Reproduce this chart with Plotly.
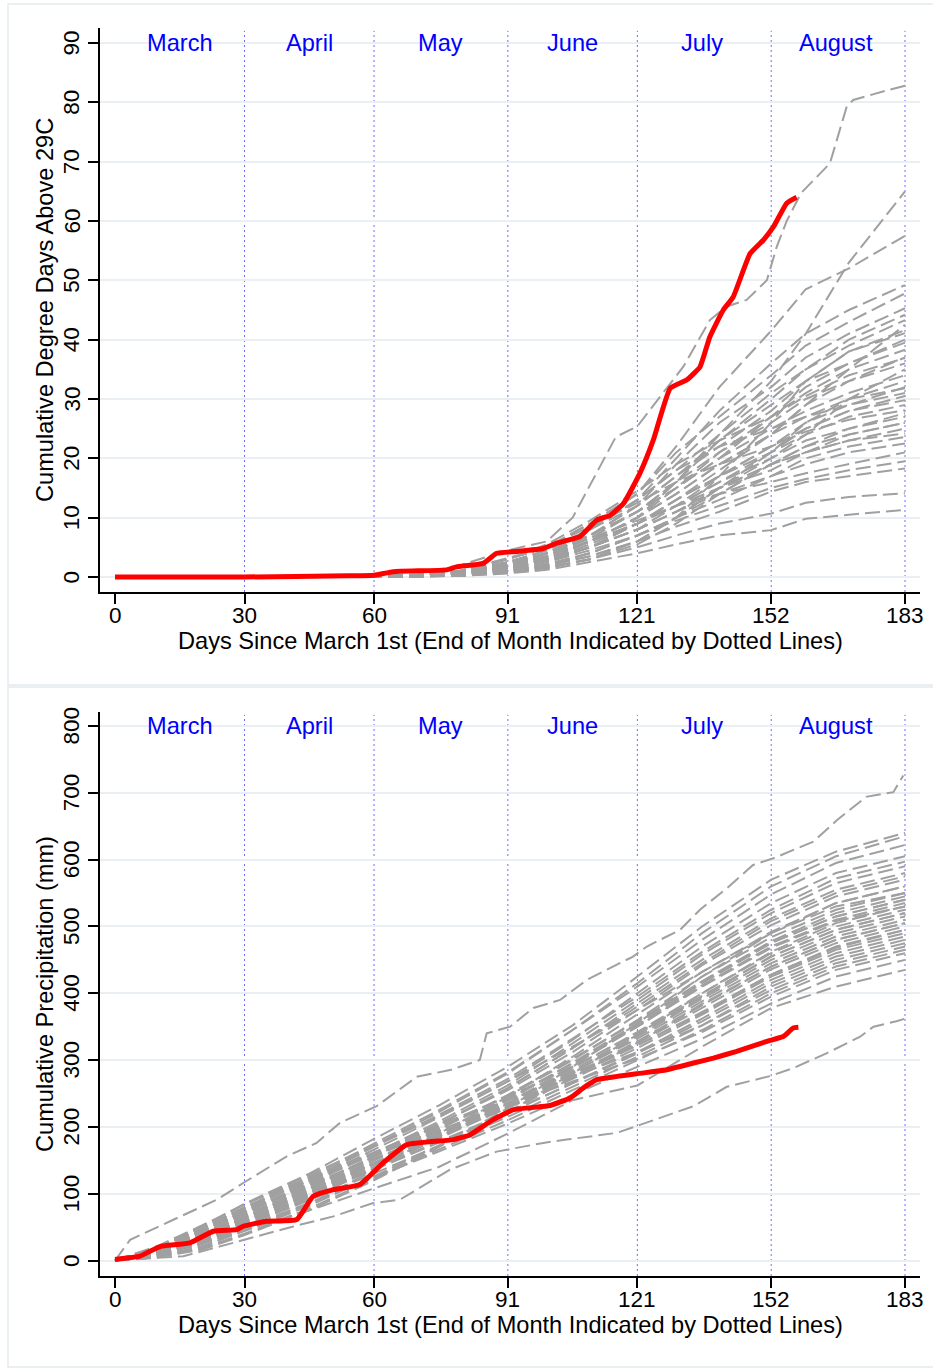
import plotly.graph_objects as go

# ---------------- data ----------------
DAY_TICKS = [0, 30, 60, 91, 121, 152, 183]
MONTH_ENDS = [30, 60, 91, 121, 152, 183]
MONTHS = ["March", "April", "May", "June", "July", "August"]
MONTH_MID = [15, 45, 75.5, 106, 136, 167]
DD_TICKS = [0, 10, 20, 30, 40, 50, 60, 70, 80, 90]
PR_TICKS = [0, 100, 200, 300, 400, 500, 600, 700, 800]

# historical years: cumulative degree days above 29C (read at these days)
DD_DAYS = [0, 55, 70, 80, 91, 100, 110, 121, 130, 140, 152, 160, 170, 183]
DD_YEARS = [
    [0, 0, 0.3, 1, 2.5, 4, 7, 11, 16, 24, 33, 41, 53, 65],
    [0, 0, 0.3, 1, 3, 5, 9, 14, 22, 32, 41.5, 48.5, 52, 57.5],
    [0, 0, 0.2, 0.8, 2.5, 4.5, 8, 13, 20, 28, 36, 41, 45, 49.2],
    [0, 0, 0.3, 1, 3, 5, 9, 14, 21, 27, 34, 39, 43, 47.8],
    [0, 0, 0.2, 0.8, 2, 3.5, 7, 12, 19, 26, 32, 37, 41, 45.3],
    [0, 0, 0.2, 0.6, 2, 4, 8, 13, 18, 24, 31, 35, 40, 44.2],
    [0, 0, 0.1, 0.5, 1.5, 3, 6, 10, 16, 23, 30, 35, 39, 43.3],
    [0, 0, 0.2, 0.7, 2.5, 4.5, 8, 12, 17, 22, 28, 33, 38, 41.6],
    [0, 0, 0.1, 0.3, 0.9, 1.8, 3.5, 6, 10, 17, 26, 33, 38, 41.1],
    [0, 0, 0.2, 0.8, 2, 4, 7, 11, 15, 20, 27, 32, 36, 39.5],
    [0, 0, 0.1, 0.4, 1.5, 3, 6, 10, 15, 21, 27, 31, 35, 38.3],
    [0, 0, 0.3, 1, 3, 5.5, 9.5, 14.5, 19, 23, 27, 30.5, 34, 36.9],
    [0, 0, 0.1, 0.5, 1.5, 3, 5, 9, 13, 18, 24, 29, 33, 36],
    [0, 0, 0.2, 0.7, 2, 4, 7, 11, 15, 20, 25, 28, 31, 34],
    [0, 0, 0.1, 0.2, 0.7, 1.5, 3, 6, 10, 15, 21, 26, 30, 33],
    [0, 0, 0.1, 0.5, 1.5, 3, 6, 10, 14, 19, 24, 27, 30, 31.8],
    [0, 0, 0.2, 0.6, 2, 3.5, 6, 9, 12, 16, 21, 25, 28, 30.5],
    [0, 0, 0.1, 0.4, 1.2, 2.5, 5, 8, 12, 17, 22, 25, 28, 29.8],
    [0, 0, 0.3, 1.1, 3.2, 5, 8.5, 12.5, 16, 19, 22, 24.5, 26.5, 28.1],
    [0, 0, 0.2, 0.6, 1.8, 3.5, 6, 9, 12, 15, 19, 22, 25, 27.6],
    [0, 0, 0.1, 0.3, 1, 2, 4, 7, 10, 14, 19, 22, 24, 26],
    [0, 0, 0.1, 0.5, 1.5, 3, 5, 8, 11, 15, 19, 21, 23, 25],
    [0, 0, 0.1, 0.2, 0.8, 1.6, 3, 5.5, 9, 14, 19, 21, 23, 24.2],
    [0, 0, 0.1, 0.3, 1, 2, 4, 7, 10, 13, 17, 20, 22, 23.6],
    [0, 0, 0.1, 0.5, 1.5, 3, 5, 8, 11, 14, 17, 19, 21, 22.5],
    [0, 0, 0.2, 0.7, 2.2, 4, 6.5, 9.5, 12, 14, 16, 17.5, 19, 21],
    [0, 0, 0.1, 0.4, 1.2, 2.5, 4.5, 7, 9.5, 12, 15, 16.5, 18, 19.5],
    [0, 0, 0.1, 0.3, 1, 2, 3.5, 6, 8.5, 11, 14.4, 16, 17, 18.3],
    [0, 0, 0.1, 0.2, 0.8, 1.5, 3, 5, 7, 9, 10.7, 12.5, 13.5, 14.1],
    [0, 0, 0.1, 0.2, 0.6, 1.2, 2.5, 4, 5.5, 7, 7.9, 9.8, 10.5, 11.3],
    [0, 0, 0.2, 0.7, 2.2, 4, 7, 12, 17, 23, 29, 33, 36, 40],
    [0, 0, 0.1, 0.5, 1.8, 3.5, 6.5, 11, 16, 21, 26, 30, 33, 37],
    [0, 0, 0.1, 0.4, 1.3, 2.8, 5, 9, 13, 17, 22, 26, 29, 32],
    [0, 0, 0.2, 0.8, 2.5, 4.5, 8, 13, 18, 22, 25, 27, 29, 31],
    [0, 0, 0.1, 0.4, 1.5, 3, 5.5, 9, 12, 16, 20, 23, 25, 27],
    [0, 0, 0.1, 0.6, 1.8, 3.5, 6, 10, 14, 19, 24, 29, 35, 42.5],
    [0, 0, 0.1, 0.3, 1, 2.2, 4, 7, 10, 15, 20, 24, 30, 35],
    [0, 0, 0.2, 0.6, 1.8, 3.2, 6, 9, 13, 17, 21, 24, 27, 29],
    [0, 0, 0.1, 0.4, 1.4, 2.8, 5, 8, 11, 15, 18, 21, 24, 26],
]
# hottest historical year (its own reading days)
DD_HOT_DAYS = [0, 55, 70, 80, 91, 100, 106, 116, 121, 131.6, 137.8, 141.7, 146.3, 151,
               153.3, 155.6, 158.9, 165.6, 169.5, 171, 178.7, 183]
DD_HOT = [0, 0, 0.5, 2, 4.5, 6, 10, 23.6, 25.4, 35.4, 43.3, 45.6, 46.7, 50,
          55.7, 60, 64.7, 69.7, 79.3, 80.4, 82, 82.8]

# 2012: cumulative degree days above 29C
RED_DD_DAYS = [0, 30, 54, 60, 64.5, 76.8, 79.1, 85.3, 88.4, 93, 99.2, 102.3, 107.7,
               111.6, 114.7, 117.8, 121.6, 124.7, 128.6, 132.4, 135.5, 137.8, 140.9,
               143.2, 147.1, 150.2, 152.5, 155.6, 157.9]
RED_DD = [0, 0, 0.2, 0.3, 0.9, 1.2, 1.7, 2.3, 4.0, 4.3, 4.8, 5.7, 6.8,
          9.6, 10.4, 12.4, 17.5, 23.1, 31.8, 33.2, 35.4, 40.5, 45,
          47.2, 54.5, 56.8, 59, 63, 64]

# historical years: cumulative precipitation (mm)
PR_DAYS = [0, 10, 20, 30, 45, 60, 75, 91, 106, 121, 136, 152, 167, 183]
PR_YEARS = [
    [0, 10, 25, 45, 75, 108, 140, 190, 240, 262, 320, 378, 410, 435],
    [0, 20, 50, 85, 130, 182, 232, 290, 352, 425, 500, 570, 612, 640],
    [0, 16, 42, 75, 122, 172, 222, 280, 345, 415, 490, 560, 605, 635],
    [0, 18, 45, 78, 125, 175, 225, 282, 345, 410, 480, 548, 595, 622],
    [0, 14, 38, 72, 118, 166, 214, 268, 330, 400, 470, 535, 580, 605],
    [0, 20, 46, 78, 120, 170, 218, 272, 332, 395, 462, 525, 572, 597],
    [0, 15, 40, 70, 115, 160, 208, 262, 325, 390, 458, 520, 565, 590],
    [0, 12, 32, 64, 108, 155, 203, 258, 318, 385, 450, 512, 555, 580],
    [0, 17, 42, 74, 116, 160, 205, 255, 312, 375, 442, 502, 545, 570],
    [0, 6, 20, 45, 85, 135, 190, 245, 305, 368, 432, 492, 535, 560],
    [0, 19, 44, 72, 112, 155, 198, 246, 300, 360, 425, 484, 525, 550],
    [0, 11, 30, 58, 98, 145, 190, 240, 296, 355, 418, 478, 520, 545],
    [0, 15, 38, 66, 108, 150, 192, 240, 295, 352, 415, 475, 515, 540],
    [0, 9, 26, 52, 92, 138, 185, 235, 292, 350, 412, 470, 510, 535],
    [0, 5, 18, 40, 78, 122, 170, 222, 280, 338, 400, 462, 505, 530],
    [0, 12, 32, 60, 100, 143, 186, 234, 288, 342, 400, 460, 500, 525],
    [0, 14, 36, 64, 104, 146, 188, 236, 285, 338, 395, 455, 495, 520],
    [0, 10, 28, 54, 94, 138, 182, 230, 282, 335, 392, 450, 490, 515],
    [0, 17, 42, 72, 112, 152, 192, 236, 282, 332, 388, 445, 485, 510],
    [0, 11, 30, 58, 98, 140, 184, 230, 278, 328, 384, 440, 480, 505],
    [0, 13, 34, 62, 102, 145, 186, 230, 276, 325, 378, 436, 475, 500],
    [0, 18, 46, 78, 120, 160, 200, 240, 280, 322, 370, 428, 470, 495],
    [0, 15, 37, 66, 106, 146, 186, 228, 272, 318, 368, 425, 465, 490],
    [0, 11, 30, 57, 95, 136, 176, 220, 266, 312, 362, 420, 460, 485],
    [0, 13, 32, 60, 98, 138, 178, 222, 265, 310, 358, 415, 455, 480],
    [0, 10, 27, 52, 90, 130, 172, 215, 260, 305, 352, 410, 450, 475],
    [0, 20, 48, 80, 120, 158, 194, 236, 275, 312, 352, 405, 445, 470],
    [0, 9, 24, 48, 85, 125, 166, 210, 255, 300, 345, 400, 440, 465],
    [0, 22, 52, 84, 124, 160, 195, 232, 268, 302, 342, 395, 435, 460],
    [0, 10, 26, 50, 86, 124, 163, 205, 248, 290, 332, 385, 425, 450],
    [0, 21, 50, 84, 128, 172, 216, 268, 320, 375, 432, 490, 530, 550],
    [0, 5, 16, 38, 75, 120, 170, 228, 290, 355, 425, 490, 535, 560],
    [0, 16, 40, 68, 110, 156, 204, 258, 318, 380, 445, 508, 550, 575],
    [0, 19, 47, 80, 122, 162, 202, 245, 290, 340, 396, 455, 495, 520],
    [0, 7, 21, 44, 82, 126, 172, 222, 274, 326, 382, 440, 480, 505],
    [0, 13, 34, 62, 104, 150, 196, 248, 302, 358, 418, 476, 515, 540],
    [0, 17, 44, 74, 114, 152, 190, 232, 275, 322, 372, 428, 468, 495],
    [0, 11, 31, 60, 102, 146, 190, 242, 295, 350, 410, 468, 508, 530],
]
# wettest and driest historical years (own reading days)
PR_WET_DAYS = [0, 3.5, 13.5, 23.6, 29.7, 39.8, 46.7, 52.1, 60.6, 69.9, 77.6, 84.5, 86.1,
               91.5, 96.9, 103.1, 109.3, 115.4, 120, 123.2, 130.9, 135.5, 141.7, 147.8,
               152.5, 161.8, 167.2, 174, 180.3, 182.6]
PR_WET = [0, 31, 61, 91, 116, 156, 176, 206, 231, 275, 285, 300, 340,
          350, 378, 390, 420, 440, 455, 470, 495, 525, 557, 592,
          602, 627, 659, 694, 701, 726]
PR_DRY_DAYS = [0, 15.8, 27.4, 41.3, 50.6, 59.8, 66, 77.6, 88.4, 99.2, 104.6, 110.8, 116.2,
               121.6, 134, 141.7, 151.7, 157.1, 164.8, 172.6, 175.7, 181, 183]
PR_DRY = [0, 6.4, 26.5, 51, 66, 86, 91, 136, 163, 176, 181, 186, 191,
          203, 231, 260, 276, 288, 310, 335, 350, 358, 362]

# 2012: cumulative precipitation (mm)
RED_PR_DAYS = [0, 5.8, 8.1, 10.8, 17.4, 22.8, 28.2, 29.7, 35.1, 42.1, 45.9, 50.6,
               56.7, 62.1, 67.6, 78.4, 82.2, 87.6, 92.3, 100.8, 105.4, 108.5, 111.6,
               120.8, 127.8, 134, 138.6, 144, 151, 154.8, 157.1, 158.3]
RED_PR = [1.5, 6.4, 13.9, 21.4, 26.5, 43.8, 46.3, 51.3, 58.7, 61.3, 96, 106,
          113.6, 146, 173.4, 181, 188, 210.8, 225.7, 232, 243.3, 258.3, 270.6,
          279.5, 285.5, 295.6, 303, 313, 328, 335.3, 348, 349]

# ---------------- layout helpers ----------------
W, H = 933, 1368
FONT = "Liberation Sans, Arial, sans-serif"
GRAY = "rgb(160,160,160)"
GRID = "#e9eff2"
BORDER = "#e3ebee"
VLINE = "rgb(110,110,255)"
TICK_SIZE = 22.5
TEXT_SIZE = 23.6


def px(x):
    return x / W


def py(y):
    return 1 - y / H


fig = go.Figure()

panels = [
    dict(xa="x", ya="y",
         series=[(DD_DAYS, yr) for yr in DD_YEARS] + [(DD_HOT_DAYS, DD_HOT)],
         rdays=RED_DD_DAYS, rvals=RED_DD,
         top=28, bottom=592, yrange=[-2.53, 92.53], ticks=DD_TICKS, label_y=90,
         title="Cumulative Degree Days Above 29C"),
    dict(xa="x2", ya="y2",
         series=[(PR_DAYS, yr) for yr in PR_YEARS]
         + [(PR_WET_DAYS, PR_WET), (PR_DRY_DAYS, PR_DRY)],
         rdays=RED_PR_DAYS, rvals=RED_PR,
         top=712, bottom=1276, yrange=[-23.2, 821], ticks=PR_TICKS, label_y=800,
         title="Cumulative Precipitation (mm)"),
]

XL, XR = 100, 920
XRANGE = [-3.475, 186.47]

annotations = []
shapes = []
for i, p in enumerate(panels):
    for dx, yr in p["series"]:
        fig.add_trace(go.Scatter(
            x=dx, y=yr, mode="lines", xaxis=p["xa"], yaxis=p["ya"],
            line=dict(color=GRAY, width=2, dash="15px,6px"),
            hoverinfo="skip", showlegend=False))
    fig.add_trace(go.Scatter(
        x=p["rdays"], y=p["rvals"], mode="lines", xaxis=p["xa"], yaxis=p["ya"],
        line=dict(color="red", width=5, shape="spline", smoothing=0.4),
        hoverinfo="skip", showlegend=False))

    sfx = "" if i == 0 else "2"
    fig.update_layout(**{
        "xaxis" + sfx: dict(
            domain=[px(XL), px(XR)], anchor="y" + sfx, range=XRANGE,
            tickmode="array", tickvals=DAY_TICKS, showticklabels=False,
            showgrid=False, zeroline=False, showline=True, linecolor="black", linewidth=2,
            ticks="outside", ticklen=10, tickwidth=1.5, tickcolor="black"),
        "yaxis" + sfx: dict(
            domain=[py(p["bottom"]), py(p["top"])], anchor="x" + sfx, range=p["yrange"],
            tickmode="array", tickvals=p["ticks"], showticklabels=False,
            showgrid=True, gridcolor=GRID, gridwidth=1.5, zeroline=False,
            showline=True, linecolor="black", linewidth=2,
            ticks="outside", ticklen=10, tickwidth=1.5, tickcolor="black"),
    })

    # tick labels (placed through the axes)
    for d in DAY_TICKS:
        annotations.append(dict(x=d, y=py(p["bottom"] + 23), xref=p["xa"], yref="paper",
                                text=str(d), showarrow=False, xanchor="center",
                                yanchor="middle",
                                font=dict(family=FONT, size=TICK_SIZE, color="black")))
    for t in p["ticks"]:
        annotations.append(dict(x=px(71.5), y=t, xref="paper", yref=p["ya"], text=str(t),
                                textangle=-90, showarrow=False, xanchor="center",
                                yanchor="middle",
                                font=dict(family=FONT, size=TICK_SIZE, color="black")))

    for d in MONTH_ENDS:
        shapes.append(dict(type="line", xref=p["xa"], yref=p["ya"] + " domain",
                           x0=d, x1=d, y0=0, y1=0.995, layer="below",
                           line=dict(color=VLINE, width=1, dash="2px,3px")))
    for m, mid in zip(MONTHS, MONTH_MID):
        annotations.append(dict(x=mid, y=p["label_y"], xref=p["xa"], yref=p["ya"],
                                text=m, showarrow=False, xanchor="center", yanchor="middle",
                                font=dict(family=FONT, size=TEXT_SIZE, color="#0000ff")))
    # axis titles
    annotations.append(dict(x=px(45), y=py((p["top"] + p["bottom"]) / 2), xref="paper",
                            yref="paper", text=p["title"], textangle=-90, showarrow=False,
                            xanchor="center", yanchor="middle",
                            font=dict(family=FONT, size=TEXT_SIZE, color="black")))
    annotations.append(dict(x=px((XL + XR) / 2), y=py(p["bottom"] + 49), xref="paper",
                            yref="paper",
                            text="Days Since March 1st (End of Month Indicated by Dotted Lines)",
                            showarrow=False, xanchor="center", yanchor="middle",
                            font=dict(family=FONT, size=TEXT_SIZE, color="black")))

# panel borders
shapes.append(dict(type="rect", xref="paper", yref="paper", x0=px(8), x1=px(934),
                   y0=py(685), y1=py(4), line=dict(color=BORDER, width=1.5), layer="below"))
shapes.append(dict(type="rect", xref="paper", yref="paper", x0=px(8), x1=px(934),
                   y0=py(1367), y1=py(687), line=dict(color=BORDER, width=1.5), layer="below"))

fig.update_layout(
    width=W, height=H, margin=dict(l=0, r=0, t=0, b=0),
    paper_bgcolor="white", plot_bgcolor="white",
    showlegend=False, annotations=annotations, shapes=shapes,
)

fig.write_html("out.html",
               config={"displayModeBar": False},
               post_script="document.body.style.margin='0px';"
                           "document.body.style.overflow='hidden';")
